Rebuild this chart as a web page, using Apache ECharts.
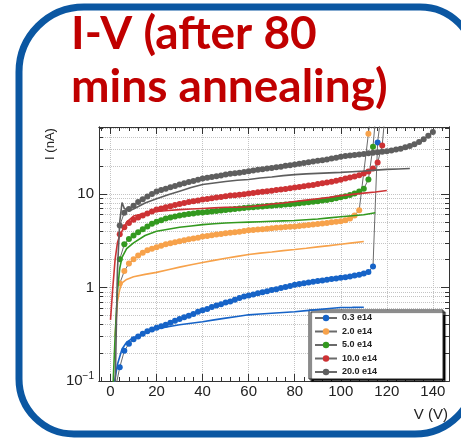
<!DOCTYPE html>
<html>
<head>
<meta charset="utf-8">
<script src="https://cdn.jsdelivr.net/npm/echarts@6/dist/echarts.min.js"></script>
<style>
  html, body { margin: 0; padding: 0; background: #fff; overflow: hidden; }
  #main { width: 461px; height: 438px; }
</style>
</head>
<body>
<div id="main"></div>
<script>
// voltage grid of the dotted (marker) measurements, V
var vGrid = [2, 4, 6, 8, 10, 12, 14, 16, 18, 20, 22, 24, 26, 28, 30, 32, 34, 36, 38, 40,
    42, 44, 46, 48, 50, 52, 54, 56, 58, 60, 62, 64, 66, 68, 70, 72, 74, 76, 78, 80,
    82, 84, 86, 88, 90, 92, 94, 96, 98, 100, 102, 104, 106, 108, 110, 112, 114, 116, 118, 120,
    122, 124, 126, 128, 130, 132, 134, 136, 138, 140];

// currents (nA) of the dotted curves, one per fluence
var blueDot = [0.08, 0.14, 0.21, 0.25, 0.28, 0.30, 0.32, 0.34, 0.355, 0.37,
    0.385, 0.40, 0.42, 0.44, 0.46, 0.48, 0.50, 0.52, 0.55, 0.57,
    0.59, 0.62, 0.64, 0.66, 0.69, 0.71, 0.74, 0.77, 0.80, 0.82,
    0.84, 0.87, 0.89, 0.91, 0.94, 0.96, 0.99, 1.01, 1.04, 1.07,
    1.09, 1.11, 1.13, 1.15, 1.17, 1.19, 1.21, 1.23, 1.25, 1.27,
    1.29, 1.31, 1.34, 1.37, 1.41, 1.46, 1.68, 35.6, 90, null,
    null, null, null, null, null, null, null, null, null, null];
var orangeDot = [null, 1.1, 1.5, 1.8, 2.0, 2.2, 2.35, 2.5, 2.6, 2.7,
    2.8, 2.9, 2.98, 3.05, 3.12, 3.2, 3.27, 3.33, 3.4, 3.5,
    3.55, 3.62, 3.68, 3.74, 3.8, 3.85, 3.9, 3.95, 4.02, 4.08,
    4.12, 4.16, 4.2, 4.25, 4.3, 4.34, 4.38, 4.42, 4.46, 4.5,
    4.55, 4.6, 4.66, 4.72, 4.78, 4.84, 4.9, 4.97, 5.04, 5.12,
    5.25, 5.45, 5.9, 6.7, null, 44, 120, null, null, null,
    null, null, null, null, null, null, null, null, null, null];
var greenDot = [null, 2.0, 2.9, 3.3, 3.6, 3.9, 4.2, 4.5, 4.8, 5.05,
    5.25, 5.45, 5.6, 5.75, 5.88, 6.0, 6.1, 6.2, 6.28, 6.35,
    6.42, 6.5, 6.58, 6.66, 6.75, 6.84, 6.92, 7.0, 7.08, 7.15,
    7.22, 7.28, 7.35, 7.42, 7.5, 7.56, 7.62, 7.7, 7.78, 7.86,
    7.95, 8.05, 8.15, 8.25, 8.38, 8.5, 8.64, 8.8, 8.98, 9.2,
    9.45, 9.75, 10.1, 10.6, 11.4, 14.3, 32, 120, null, null,
    null, null, null, null, null, null, null, null, null, null];
var redDot = [null, 3.7, 4.4, 4.9, 5.3, 5.6, 5.9, 6.2, 6.5, 6.8,
    7.0, 7.2, 7.4, 7.6, 7.8, 8.0, 8.2, 8.35, 8.5, 8.7,
    8.85, 9.0, 9.15, 9.3, 9.45, 9.6, 9.7, 9.82, 9.95, 10.1,
    10.25, 10.4, 10.55, 10.7, 10.85, 11.0, 11.15, 11.3, 11.5, 11.7,
    11.9, 12.1, 12.3, 12.5, 12.75, 13.0, 13.25, 13.5, 13.85, 14.2,
    14.6, 15.0, 15.4, 15.9, 16.5, 17.4, 18.7, 21.7, 33, 120,
    null, null, null, null, null, null, null, null, null, null];
var grayDot = [null, 4.6, 6.3, 6.9, 7.5, 8.2, 8.8, 9.4, 10.0, 10.6,
    11.0, 11.4, 11.8, 12.2, 12.6, 13.0, 13.4, 13.8, 14.2, 14.6,
    14.9, 15.2, 15.5, 15.8, 16.1, 16.4, 16.7, 16.9, 17.2, 17.5,
    17.8, 18.1, 18.4, 18.7, 19.0, 19.3, 19.6, 20.0, 20.3, 20.6,
    21.0, 21.4, 21.8, 22.2, 22.6, 23.0, 23.4, 23.9, 24.4, 25.0,
    25.4, 25.8, 26.1, 26.4, 26.8, 27.2, 27.6, 28.0, 28.3, 28.6,
    29.2, 29.8, 30.5, 31.5, 32.5, 34.0, 36.0, 38.5, 42.0, 46.0];

// solid curves (second measurement), V and nA
var blueLineV = [1.5, 3, 5, 7, 10, 15, 20, 25, 30, 35, 40, 45, 50, 55, 60, 65, 70, 75, 80, 85, 90, 95, 100, 105, 110];
var blueLineI = [0.09, 0.15, 0.22, 0.26, 0.29, 0.33, 0.36, 0.38, 0.40, 0.415, 0.43, 0.45, 0.47, 0.49, 0.51, 0.52, 0.53, 0.54, 0.55, 0.565, 0.58, 0.595, 0.61, 0.612, 0.615];
var orangeLineV = [2, 3, 4, 5, 7, 10, 15, 20, 25, 30, 35, 40, 45, 50, 55, 60, 65, 70, 75, 80, 85, 90, 95, 100, 105, 110];
var orangeLineI = [0.3, 0.7, 0.95, 1.12, 1.22, 1.3, 1.38, 1.45, 1.55, 1.65, 1.75, 1.85, 1.95, 2.05, 2.15, 2.25, 2.33, 2.4, 2.48, 2.55, 2.63, 2.72, 2.8, 2.9, 3.0, 3.1];
var greenLineV = [1, 2, 3, 4, 5, 7, 10, 15, 20, 25, 30, 35, 40, 45, 50, 55, 60, 65, 70, 75, 80, 85, 90, 95, 100, 105, 110, 115];
var greenLineI = [0.08, 0.3, 0.9, 1.6, 2.1, 2.6, 3.0, 3.6, 4.0, 4.2, 4.4, 4.55, 4.7, 4.8, 4.9, 4.95, 5.0, 5.05, 5.1, 5.15, 5.2, 5.3, 5.4, 5.55, 5.7, 5.85, 6.0, 6.3];
var redLineV = [0, 1, 2, 3, 4, 5, 7, 10, 15, 20, 25, 30, 35, 40, 45, 50, 55, 60, 65, 70, 75, 80, 85, 90, 95, 100, 105, 110, 115, 120];
var redLineI = [0.45, 1.0, 2.0, 3.0, 3.6, 4.0, 5.0, 5.8, 6.2, 6.5, 6.65, 6.8, 6.9, 7.0, 7.1, 7.2, 7.2, 7.3, 7.5, 7.8, 8.0, 8.3, 8.6, 8.9, 9.2, 9.6, 9.9, 10.2, 10.5, 10.9];
var grayLineV = [2, 3, 4, 5, 6, 8, 10, 15, 20, 25, 30, 35, 40, 45, 50, 55, 60, 65, 70, 75, 80, 85, 90, 95, 100, 105, 110, 115, 120, 125, 130];
var grayLineI = [0.08, 1.5, 5.0, 8.1, 7.0, 6.6, 6.9, 8.0, 8.9, 9.8, 10.7, 11.7, 12.6, 13.1, 13.6, 14.0, 14.3, 14.8, 15.2, 15.7, 16.1, 16.4, 16.6, 16.8, 17.0, 17.3, 17.6, 18.0, 18.3, 18.5, 18.7];

var fluences = ['0.3 e14', '2.0 e14', '5.0 e14', '10.0 e14', '20.0 e14'];
var colors = ['#1663c7', '#f7a24b', '#33991f', '#cd3234', '#5e5e5e'];

// tick labels / tick positions
var xLabels = [0, 20, 40, 60, 80, 100, 120, 140];
var xMinor = [-4, 0, 4, 8, 12, 16, 20, 24, 28, 32, 36, 40, 44, 48, 52, 56, 60, 64, 68, 72, 76, 80,
    84, 88, 92, 96, 100, 104, 108, 112, 116, 120, 124, 128, 132, 136, 140, 144];
var yLabels = [0.1, 1, 10];
var yMinor = [0.2, 0.3, 0.4, 0.5, 0.6, 0.7, 0.8, 0.9, 1, 2, 3, 4, 5, 6, 7, 8, 9, 10, 20, 30, 40, 50];

var dots = [blueDot, orangeDot, greenDot, redDot, grayDot];
var lines = [[blueLineV, blueLineI], [orangeLineV, orangeLineI], [greenLineV, greenLineI],
    [redLineV, redLineI], [grayLineV, grayLineI]];

var myChart = echarts.init(document.getElementById('main'));

var frameColor = '#333';
var gridStyle = { color: '#c4c4c4', width: 1, type: 'dotted' };

function xAxisDef(pos, ticks, len, withLabel, withSplit) {
    return {
        type: 'value', position: pos, min: -5, max: 147,
        axisLine: { show: true, onZero: false, lineStyle: { color: frameColor, width: 1 } },
        axisTick: { show: true, inside: true, length: len, customValues: ticks, lineStyle: { color: frameColor } },
        axisLabel: withLabel ? {
            show: true, customValues: xLabels, margin: 3, fontSize: 15,
            color: '#222', fontFamily: 'Liberation Sans'
        } : { show: false },
        splitLine: withSplit ? { show: true, lineStyle: gridStyle } : { show: false }
    };
}
function yAxisDef(pos, ticks, len, withLabel, withSplit) {
    return {
        type: 'log', logBase: 10, position: pos, min: 0.1, max: 52,
        axisLine: { show: true, onZero: false, lineStyle: { color: frameColor, width: 1 } },
        axisTick: { show: true, inside: true, length: len, customValues: ticks, lineStyle: { color: frameColor } },
        axisLabel: withLabel ? {
            show: true, customValues: yLabels, margin: 5, fontSize: 15,
            color: '#222', fontFamily: 'Liberation Sans',
            formatter: function (v) {
                if (Math.abs(v - 0.1) < 1e-9) return '10{sup|\u22121}';
                if (Math.abs(v - 1) < 1e-9) return '1';
                if (Math.abs(v - 10) < 1e-9) return '10';
                return '';
            },
            rich: { sup: { fontSize: 10, color: '#222', fontFamily: 'Liberation Sans', padding: [0, 0, 9, 0] } }
        } : { show: false },
        splitLine: withSplit ? { show: true, lineStyle: gridStyle } : { show: false }
    };
}

var series = [];
for (var i = 0; i < 5; i++) {
    var pts = [];
    for (var k = 0; k < vGrid.length; k++) {
        if (dots[i][k] !== null) pts.push([vGrid[k], dots[i][k]]);
    }
    series.push({
        name: fluences[i], type: 'line', data: pts,
        symbol: 'circle', symbolSize: 6, showSymbol: true,
        itemStyle: { color: colors[i] },
        lineStyle: { color: '#6a6a6a', width: 1 },
        z: 3
    });
}
for (var j = 0; j < 5; j++) {
    var lp = [];
    for (var m = 0; m < lines[j][0].length; m++) lp.push([lines[j][0][m], lines[j][1][m]]);
    series.push({
        name: fluences[j] + ' b', type: 'line', data: lp,
        symbol: 'none', showSymbol: false,
        itemStyle: { color: colors[j] },
        lineStyle: { color: colors[j], width: 1.6 },
        z: 4
    });
}

// blue slide frame, right side runs outside the window
var frameStyle = { fill: null, stroke: '#0b57a2', lineWidth: 7 };
var PI = Math.PI;
var frameParts = [
    { type: 'line', shape: { x1: 84, y1: 7, x2: 420, y2: 7 } },
    { type: 'arc', shape: { cx: 420, cy: 62, r: 55, startAngle: -PI / 2, endAngle: 0, clockwise: true } },
    { type: 'arc', shape: { cx: 84, cy: 72, r: 65, startAngle: PI, endAngle: PI * 1.5, clockwise: true } },
    { type: 'line', shape: { x1: 19, y1: 72, x2: 19, y2: 379 } },
    { type: 'arc', shape: { cx: 74, cy: 379, r: 55, startAngle: PI / 2, endAngle: PI, clockwise: true } },
    { type: 'line', shape: { x1: 74, y1: 434, x2: 415, y2: 434 } },
    { type: 'arc', shape: { cx: 415, cy: 374, r: 60, startAngle: 0, endAngle: PI / 2, clockwise: true } }
];
var graphics = [];
for (var f = 0; f < frameParts.length; f++) {
    frameParts[f].z = 100;
    frameParts[f].silent = true;
    frameParts[f].style = frameStyle;
    graphics.push(frameParts[f]);
}
graphics.push({
    type: 'text', x: 50, y: 144, rotation: PI / 2,
    style: { text: 'I (nA)', fontSize: 13, fontFamily: 'Liberation Sans', fill: '#222', align: 'center', verticalAlign: 'middle' }
});
graphics.push({
    type: 'text', x: 448, y: 415,
    style: { text: 'V (V)', fontSize: 15, fontFamily: 'Liberation Sans', fill: '#222', align: 'right', verticalAlign: 'middle' }
});

var option = {
    animation: false,
    backgroundColor: '#fff',
    title: {
        text: 'I-V (after 80\nmins annealing)',
        left: 71, top: 8, padding: 0,
        textStyle: {
            fontFamily: 'Lato', fontWeight: 'bold', fontSize: 46, lineHeight: 53, color: '#c00000'
        }
    },
    grid: { left: 99, top: 127, right: 12, bottom: 57, containLabel: false },
    legend: {
        data: fluences,
        orient: 'vertical', left: 309, top: 310,
        padding: [3, 66, 2, 5], itemGap: 3.5, itemWidth: 22, itemHeight: 8,
        backgroundColor: '#fff', borderColor: '#222', borderWidth: 1, borderRadius: 0,
        shadowColor: '#000', shadowBlur: 1, shadowOffsetX: 2, shadowOffsetY: 2,
        textStyle: { fontSize: 9, fontWeight: 'bold', color: '#222', fontFamily: 'Liberation Sans', lineHeight: 10 }
    },
    xAxis: [
        xAxisDef('bottom', xMinor, 4, true, false),
        xAxisDef('bottom', xLabels, 7, false, true),
        xAxisDef('top', xMinor, 4, false, false),
        xAxisDef('top', xLabels, 7, false, false)
    ],
    yAxis: [
        yAxisDef('left', yMinor, 4, true, true),
        yAxisDef('left', yLabels, 8, false, false),
        yAxisDef('right', yMinor, 4, false, false),
        yAxisDef('right', yLabels, 8, false, false)
    ],
    graphic: graphics,
    series: series
};
myChart.setOption(option);
</script>
</body>
</html>
